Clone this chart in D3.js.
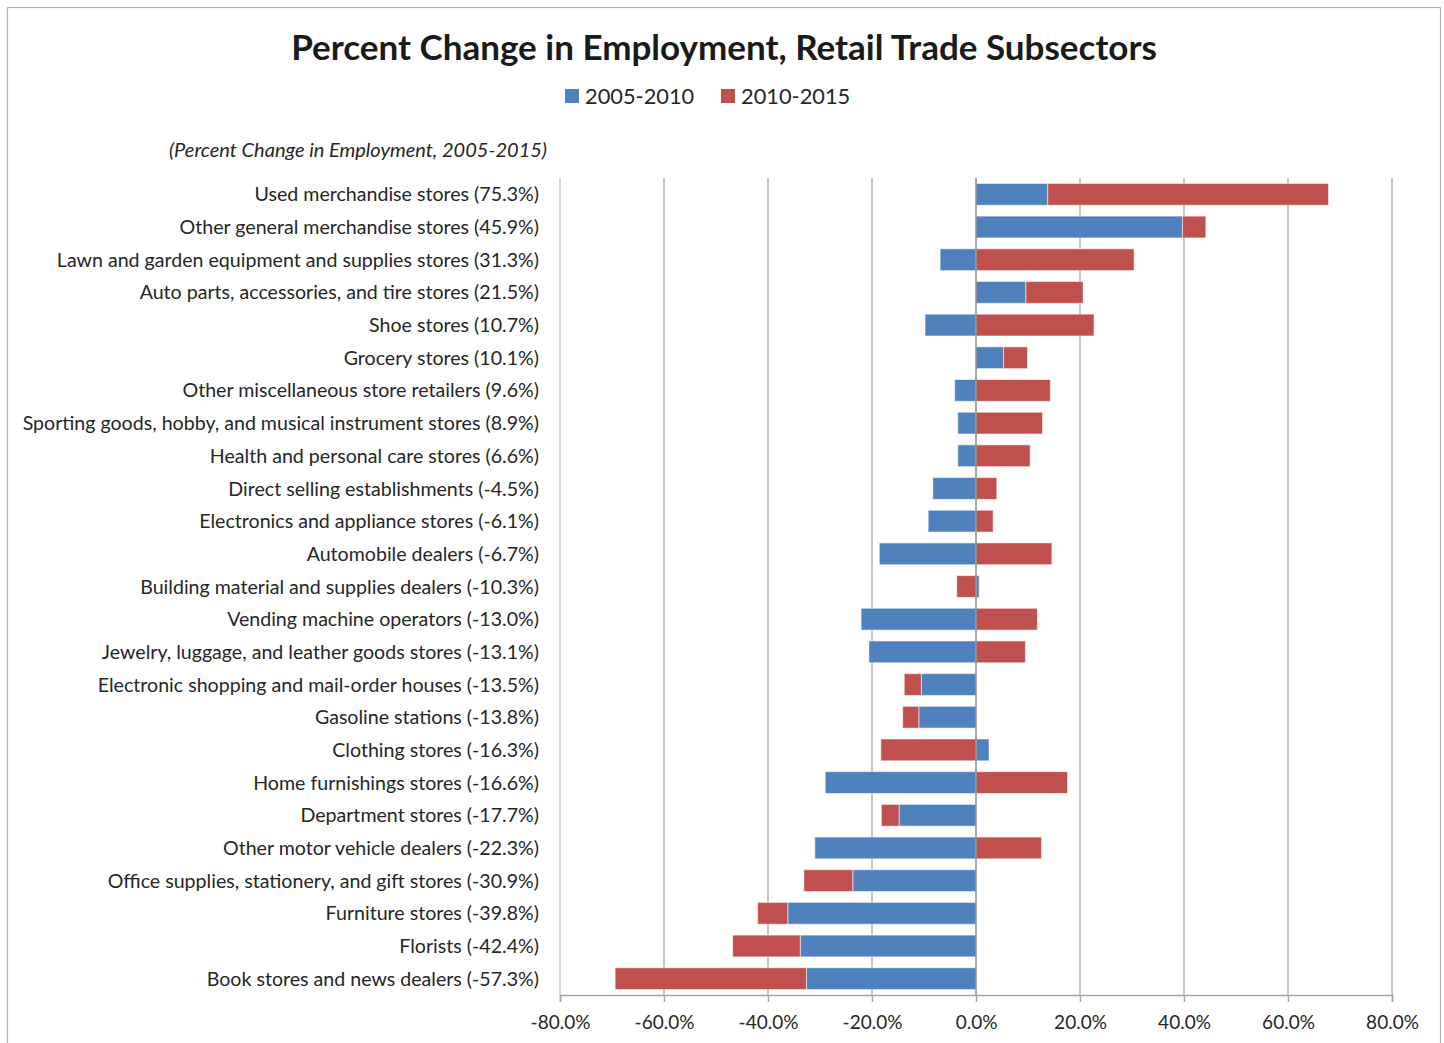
<!DOCTYPE html>
<html>
<head>
<meta charset="utf-8">
<script src="https://cdn.jsdelivr.net/npm/d3@7"></script>
<style>
  body { margin: 0; background: #fff; }
  svg text { font-family: Lato, "Open Sans", sans-serif; fill: #262626; }
</style>
</head>
<body>
<div id="chart"></div>
<script>
// Data
const categories = [
  'Used merchandise stores (75.3%)',
  'Other general merchandise stores (45.9%)',
  'Lawn and garden equipment and supplies stores (31.3%)',
  'Auto parts, accessories, and tire stores (21.5%)',
  'Shoe stores (10.7%)',
  'Grocery stores (10.1%)',
  'Other miscellaneous store retailers (9.6%)',
  'Sporting goods, hobby, and musical instrument stores (8.9%)',
  'Health and personal care stores (6.6%)',
  'Direct selling establishments (-4.5%)',
  'Electronics and appliance stores (-6.1%)',
  'Automobile dealers (-6.7%)',
  'Building material and supplies dealers (-10.3%)',
  'Vending machine operators (-13.0%)',
  'Jewelry, luggage, and leather goods stores (-13.1%)',
  'Electronic shopping and mail-order houses (-13.5%)',
  'Gasoline stations (-13.8%)',
  'Clothing stores (-16.3%)',
  'Home furnishings stores (-16.6%)',
  'Department stores (-17.7%)',
  'Other motor vehicle dealers (-22.3%)',
  'Office supplies, stationery, and gift stores (-30.9%)',
  'Furniture stores (-39.8%)',
  'Florists (-42.4%)',
  'Book stores and news dealers (-57.3%)'
];
const change2005_2010 = [13.8, 39.7, -6.9, 9.6, -9.8, 5.3, -4.1, -3.5, -3.5, -8.3, -9.2, -18.6, 0.6,
  -22.1, -20.6, -10.5, -11.0, 2.5, -29.0, -14.8, -31.0, -23.7, -36.2, -33.8, -32.6];
const change2010_2015 = [54.0, 4.5, 30.4, 11.0, 22.7, 4.6, 14.3, 12.8, 10.4, 4.0, 3.3, 14.6, -3.7,
  11.8, 9.5, -3.3, -3.1, -18.3, 17.6, -3.4, 12.6, -9.4, -5.8, -13.0, -36.8];
const seriesNames = ['2005-2010', '2010-2015'];
const seriesColors = ['#4f81bd', '#c0504d'];
const tickValues = [-80, -60, -40, -20, 0, 20, 40, 60, 80];

const rows = categories.map((c, i) => ({
  category: c,
  '2005-2010': change2005_2010[i],
  '2010-2015': change2010_2015[i]
}));

// Dimensions
const width = 1444;
const height = 1043;
const plot = {left: 560, right: 1392, top: 178, bottom: 995};

const svg = d3.select('#chart')
  .append('svg')
    .attr('width', width)
    .attr('height', height);

// Chart frame
svg.append('rect')
    .attr('x', 7.5)
    .attr('y', 7.5)
    .attr('width', 1433)
    .attr('height', 1100)
    .attr('fill', 'none')
    .attr('stroke', '#b4b4b4')
    .attr('stroke-width', 1.2);

// Scales
const x = d3.scaleLinear()
  .domain([-80, 80])
  .range([plot.left, plot.right]);
const y = d3.scaleBand()
  .domain(categories)
  .range([plot.top, plot.bottom])
  .paddingInner(1 / 3)
  .paddingOuter(1 / 6);

// Gridlines
svg.append('g')
    .attr('class', 'grid')
    .attr('stroke', '#b3b3b3')
    .attr('stroke-width', 1.5)
  .selectAll('line')
  .data(tickValues.filter(d => d !== 0))
  .join('line')
    .attr('x1', d => x(d))
    .attr('x2', d => x(d))
    .attr('y1', plot.top)
    .attr('y2', plot.bottom)
    .attr('stroke', d => d === -80 ? '#c8c8c8' : null);

// Bars (diverging stack: negatives stack left of 0, positives right)
const stacked = d3.stack()
  .keys(seriesNames)
  .offset(d3.stackOffsetDiverging)(rows);

svg.append('g')
    .attr('class', 'bars')
  .selectAll('g')
  .data(stacked)
  .join('g')
    .attr('fill', (d, i) => seriesColors[i])
  .selectAll('rect')
  .data(d => d)
  .join('rect')
    .attr('x', d => x(Math.min(d[0], d[1])))
    .attr('y', d => y(d.data.category))
    .attr('width', d => Math.abs(x(d[1]) - x(d[0])))
    .attr('height', y.bandwidth())
    .attr('stroke', '#fff')
    .attr('stroke-opacity', 0.55)
    .attr('stroke-width', 1);

// Vertical axis at zero
svg.append('line')
    .attr('x1', x(0))
    .attr('x2', x(0))
    .attr('y1', plot.top)
    .attr('y2', plot.bottom)
    .attr('stroke', '#8c8c8c')
    .attr('stroke-width', 1.5);

// Horizontal axis
const xAxis = svg.append('g')
    .attr('transform', `translate(0,${plot.bottom})`)
    .call(d3.axisBottom(x)
      .tickValues(tickValues)
      .tickSize(7)
      .tickPadding(14)
      .tickFormat(d => d.toFixed(1) + '%'));
xAxis.select('.domain').attr('stroke', '#a6a6a6').attr('stroke-width', 1.5);
xAxis.selectAll('.tick line').attr('stroke', '#a6a6a6').attr('stroke-width', 1.5);
xAxis.selectAll('.tick text')
    .attr('font-size', 19)
    .attr('fill', '#262626')
    .style('font-family', 'Lato, "Open Sans", sans-serif');

// Category labels
svg.append('g')
    .attr('class', 'labels')
  .selectAll('text')
  .data(categories)
  .join('text')
    .attr('x', 539)
    .attr('y', d => y(d) + y.bandwidth() / 2)
    .attr('dy', '0.36em')
    .attr('text-anchor', 'end')
    .attr('font-size', 19.6)
    .text(d => d);

// Title
svg.append('text')
    .attr('x', 724)
    .attr('y', 60)
    .attr('text-anchor', 'middle')
    .attr('font-size', 35)
    .style('font-weight', 700)
    .style('fill', '#1a1a1a')
    .text('Percent Change in Employment, Retail Trade Subsectors');

// Subtitle
svg.append('text')
    .attr('x', 547)
    .attr('y', 157)
    .attr('text-anchor', 'end')
    .attr('font-size', 20)
    .style('font-style', 'italic')
    .text('(Percent Change in Employment, 2005-2015)');

// Legend
const legend = svg.append('g')
    .attr('class', 'legend')
  .selectAll('g')
  .data(seriesNames)
  .join('g')
    .attr('transform', (d, i) => `translate(${565 + i * 156},89)`);
legend.append('rect')
    .attr('width', 14)
    .attr('height', 14)
    .attr('fill', (d, i) => seriesColors[i]);
legend.append('text')
    .attr('x', 20)
    .attr('y', 15)
    .attr('font-size', 21.8)
    .text(d => d);
</script>
</body>
</html>
